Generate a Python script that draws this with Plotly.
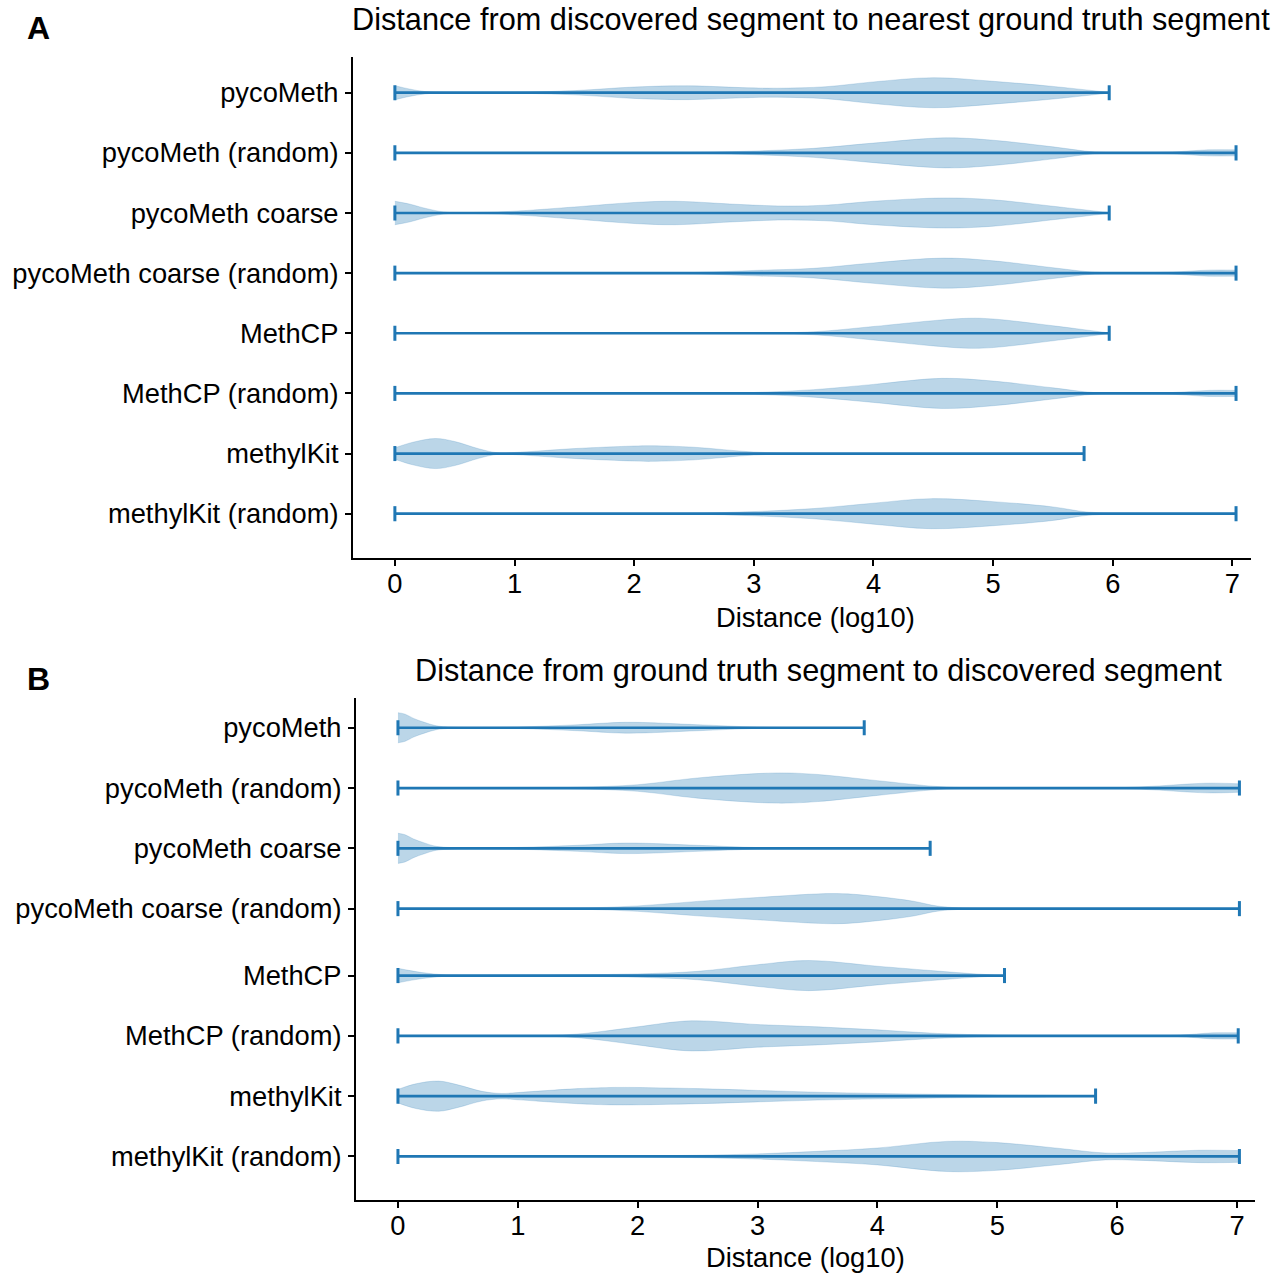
import plotly.graph_objects as go

# ---------------------------------------------------------------------------
# Data: log10 distances. Each violin is given as (log10 distance, relative
# density) knots; relative density is 1.0 at the mode of that violin.
# ---------------------------------------------------------------------------
categories = [
    "pycoMeth",
    "pycoMeth (random)",
    "pycoMeth coarse",
    "pycoMeth coarse (random)",
    "MethCP",
    "MethCP (random)",
    "methylKit",
    "methylKit (random)",
]

# Panel A: discovered segment -> nearest ground truth segment
a_min = [0, 0, 0, 0, 0, 0, 0, 0]
a_max = [5.97, 7.03, 5.97, 7.03, 5.97, 7.03, 5.76, 7.03]

a_pycometh = [(0, 0.47), (0.12, 0.25), (0.25, 0.08), (0.4, 0.03), (0.75, 0.02), (1.0, 0.03),
              (1.5, 0.14), (2.0, 0.38), (2.45, 0.46), (2.9, 0.34), (3.2, 0.3), (3.6, 0.4),
              (4.0, 0.72), (4.5, 1.0), (5.0, 0.76), (5.5, 0.42), (5.97, 0.02)]
a_pycometh_rand = [(0, 0), (1.0, 0), (2.0, 0.01), (2.5, 0.03), (3.0, 0.12), (3.5, 0.3),
                   (4.0, 0.65), (4.6, 1.0), (5.0, 0.84), (5.5, 0.4), (5.85, 0.06), (6.2, 0.03),
                   (6.5, 0.06), (6.8, 0.2), (7.03, 0.2)]
a_coarse = [(0, 0.78), (0.12, 0.6), (0.25, 0.32), (0.44, 0.04), (0.7, 0.04), (1.0, 0.12),
            (1.5, 0.4), (2.0, 0.7), (2.35, 0.78), (2.8, 0.6), (3.2, 0.47), (3.6, 0.52),
            (4.0, 0.78), (4.6, 1.0), (5.0, 0.88), (5.5, 0.45), (5.97, 0.02)]
a_coarse_rand = [(0, 0), (1.0, 0), (2.0, 0.01), (2.5, 0.04), (3.0, 0.18), (3.5, 0.32),
                 (4.0, 0.68), (4.58, 1.0), (5.0, 0.82), (5.5, 0.36), (5.85, 0.06), (6.2, 0.03),
                 (6.5, 0.07), (6.8, 0.2), (7.03, 0.2)]
a_methcp = [(0, 0), (2.0, 0), (3.0, 0.02), (3.5, 0.1), (4.0, 0.45), (4.5, 0.84), (4.8, 1.0),
            (5.0, 0.95), (5.5, 0.5), (5.97, 0.02)]
a_methcp_rand = [(0, 0), (2.0, 0), (2.5, 0.02), (3.0, 0.06), (3.5, 0.25), (4.0, 0.6),
                 (4.57, 1.0), (5.0, 0.82), (5.5, 0.37), (5.85, 0.05), (6.2, 0.03), (6.5, 0.06),
                 (6.8, 0.2), (7.03, 0.2)]
a_methylkit = [(0, 0.38), (0.15, 0.75), (0.34, 1.0), (0.5, 0.8), (0.7, 0.32), (0.86, 0.05),
               (1.0, 0.07), (1.5, 0.33), (2.0, 0.5), (2.15, 0.52), (2.5, 0.42), (3.0, 0.1),
               (3.4, 0.02), (4.0, 0.0), (5.76, 0.0)]
a_methylkit_rand = [(0, 0), (2.0, 0), (2.5, 0.03), (3.0, 0.14), (3.5, 0.34), (4.0, 0.7),
                    (4.48, 1.0), (5.0, 0.8), (5.5, 0.45), (5.8, 0.1), (6.2, 0.04), (6.6, 0.03),
                    (7.03, 0.04)]

# Panel B: ground truth segment -> discovered segment
b_min = [0, 0, 0, 0, 0, 0, 0, 0]
b_max = [3.89, 7.02, 4.44, 7.02, 5.06, 7.01, 5.82, 7.02]

b_pycometh = [(0, 1.0), (0.06, 0.9), (0.13, 0.62), (0.22, 0.36), (0.32, 0.13), (0.45, 0.04),
              (1.0, 0.05), (1.5, 0.2), (1.9, 0.36), (2.5, 0.2), (3.0, 0.04), (3.5, 0.01),
              (3.89, 0.0)]
b_pycometh_rand = [(0, 0), (1.0, 0), (1.5, 0.05), (2.0, 0.22), (2.5, 0.67), (3.15, 1.0),
                   (3.5, 0.9), (4.0, 0.49), (4.5, 0.1), (4.8, 0.02), (5.5, 0.01), (6.0, 0.02),
                   (6.3, 0.12), (6.75, 0.32), (7.02, 0.28)]
b_coarse = [(0, 1.0), (0.06, 0.9), (0.13, 0.62), (0.22, 0.36), (0.32, 0.13), (0.5, 0.04),
            (1.0, 0.06), (1.5, 0.2), (1.9, 0.35), (2.5, 0.2), (3.0, 0.05), (3.5, 0.02),
            (4.0, 0.01), (4.44, 0.0)]
b_coarse_rand = [(0, 0), (1.0, 0), (1.5, 0.03), (2.0, 0.18), (2.5, 0.48), (3.0, 0.74),
                 (3.66, 1.0), (4.0, 0.8), (4.3, 0.49), (4.5, 0.17), (4.75, 0.03), (5.5, 0.01),
                 (7.02, 0.01)]
b_methcp = [(0, 0.48), (0.2, 0.2), (0.4, 0.04), (0.6, 0.02), (1.0, 0.03), (1.5, 0.05),
            (2.0, 0.11), (2.5, 0.28), (3.0, 0.72), (3.43, 1.0), (4.0, 0.62), (4.5, 0.3),
            (4.8, 0.12), (5.06, 0.0)]
b_methcp_rand = [(0, 0), (1.0, 0.0), (1.25, 0.02), (1.5, 0.12), (1.72, 0.31), (2.0, 0.6),
                 (2.45, 1.0), (3.0, 0.75), (3.5, 0.6), (4.0, 0.4), (4.5, 0.16), (5.0, 0.05),
                 (5.5, 0.02), (6.0, 0.01), (6.5, 0.04), (6.8, 0.2), (7.01, 0.2)]
b_methylkit = [(0, 0.45), (0.15, 0.82), (0.34, 1.0), (0.5, 0.75), (0.7, 0.32), (0.86, 0.18),
               (1.0, 0.24), (1.5, 0.5), (1.82, 0.58), (2.5, 0.5), (3.0, 0.38), (3.5, 0.26),
               (4.0, 0.18), (4.5, 0.12), (5.0, 0.08), (5.5, 0.05), (5.82, 0.02)]
b_methylkit_rand = [(0, 0), (1.0, 0), (1.5, 0.01), (2.0, 0.04), (2.5, 0.08), (3.0, 0.17),
                    (3.5, 0.34), (4.0, 0.56), (4.58, 1.0), (5.0, 0.92), (5.5, 0.55),
                    (5.9, 0.23), (6.2, 0.26), (6.68, 0.41), (7.02, 0.39)]

a_profiles = [a_pycometh, a_pycometh_rand, a_coarse, a_coarse_rand,
              a_methcp, a_methcp_rand, a_methylkit, a_methylkit_rand]
b_profiles = [b_pycometh, b_pycometh_rand, b_coarse, b_coarse_rand,
              b_methcp, b_methcp_rand, b_methylkit, b_methylkit_rand]

# ---------------------------------------------------------------------------
# Styling / layout constants
# ---------------------------------------------------------------------------
BLUE = "#1f77b4"
BODY = "rgba(31,119,180,0.3)"
HALF_WIDTH = 0.25      # half of the violin width (widths=0.5)
CAP_HALF = 0.125       # half length of the extrema caps
LINE_W = 2.7
FONT = "Liberation Sans, Arial, Helvetica, sans-serif"
TICK_SIZE = 27.3
TITLE_SIZE = 30.7

rows_a = [0, 1, 2, 3, 4, 5, 6, 7]
rows_b = [0, 1, 2, 3, 4.11, 5.11, 6.11, 7.11]

fig = go.Figure()


def add_panel(profiles, mins, maxs, rows, xa, ya):
    # violin bodies: lower edge then upper edge filled to it
    for prof, row in zip(profiles, rows):
        xs = [p[0] for p in prof]
        ws = [p[1] * HALF_WIDTH for p in prof]
        fig.add_trace(go.Scatter(
            x=xs, y=[row + w for w in ws], mode="lines",
            line=dict(color=BODY, width=0.6, shape="spline", smoothing=1.0),
            xaxis=xa, yaxis=ya, hoverinfo="skip"))
        fig.add_trace(go.Scatter(
            x=xs, y=[row - w for w in ws], mode="lines", fill="tonexty",
            fillcolor=BODY,
            line=dict(color=BODY, width=0.6, shape="spline", smoothing=1.0),
            xaxis=xa, yaxis=ya, hoverinfo="skip"))
    # range bars and extrema caps
    bx, by, cx, cy = [], [], [], []
    for lo, hi, row in zip(mins, maxs, rows):
        bx += [lo, hi, None]
        by += [row, row, None]
        for v in (lo, hi):
            cx += [v, v, None]
            cy += [row - CAP_HALF, row + CAP_HALF, None]
    fig.add_trace(go.Scatter(x=bx, y=by, mode="lines",
                             line=dict(color=BLUE, width=LINE_W),
                             xaxis=xa, yaxis=ya, hoverinfo="skip"))
    fig.add_trace(go.Scatter(x=cx, y=cy, mode="lines",
                             line=dict(color=BLUE, width=LINE_W + 0.3),
                             xaxis=xa, yaxis=ya, hoverinfo="skip"))


add_panel(a_profiles, a_min, a_max, rows_a, "x", "y")
add_panel(b_profiles, b_min, b_max, rows_b, "x2", "y2")

axis_common = dict(
    showgrid=False, zeroline=False, showline=True, linecolor="black", linewidth=2,
    ticks="outside", ticklen=6, tickwidth=2, tickcolor="black",
    tickfont=dict(family=FONT, size=TICK_SIZE, color="black"),
)
xticks = [0, 1, 2, 3, 4, 5, 6, 7]

fig.update_layout(
    width=1287, height=1274,
    margin=dict(l=0, r=0, t=0, b=0),
    paper_bgcolor="white", plot_bgcolor="white",
    showlegend=False,
    xaxis=dict(domain=[353 / 1287, 1251 / 1287], anchor="y", range=[-0.35, 7.155],
               tickvals=xticks, ticklabelstandoff=-5, **axis_common),
    yaxis=dict(domain=[1 - 557.7 / 1274, 1 - 56.7 / 1274], anchor="x",
               range=[7.732, -0.599], tickvals=rows_a, ticktext=categories,
               ticklabelstandoff=1, **axis_common),
    xaxis2=dict(domain=[356 / 1287, 1255 / 1287], anchor="y2", range=[-0.35, 7.15],
                tickvals=xticks, ticklabelstandoff=-6, **axis_common),
    yaxis2=dict(domain=[1 - 1200.3 / 1274, 1 - 698.3 / 1274], anchor="x2",
                range=[7.837, -0.488], tickvals=rows_b, ticktext=categories,
                ticklabelstandoff=1, **axis_common),
)


def label(text, x_px, y_px, size, bold=False):
    fig.add_annotation(
        text=f"<b>{text}</b>" if bold else text,
        x=x_px / 1287, y=1 - y_px / 1274, xref="paper", yref="paper",
        xanchor="center", yanchor="middle", showarrow=False,
        font=dict(family=FONT, size=size, color="black"))


label("A", 38, 28, 32, bold=True)
label("B", 38, 679, 32, bold=True)
label("Distance from discovered segment to nearest ground truth segment", 811, 20, TITLE_SIZE)
label("Distance from ground truth segment to discovered segment", 818, 670, TITLE_SIZE)
label("Distance (log10)", 815, 617, TICK_SIZE)
label("Distance (log10)", 805, 1257, TICK_SIZE)

fig.write_html("out.html")
